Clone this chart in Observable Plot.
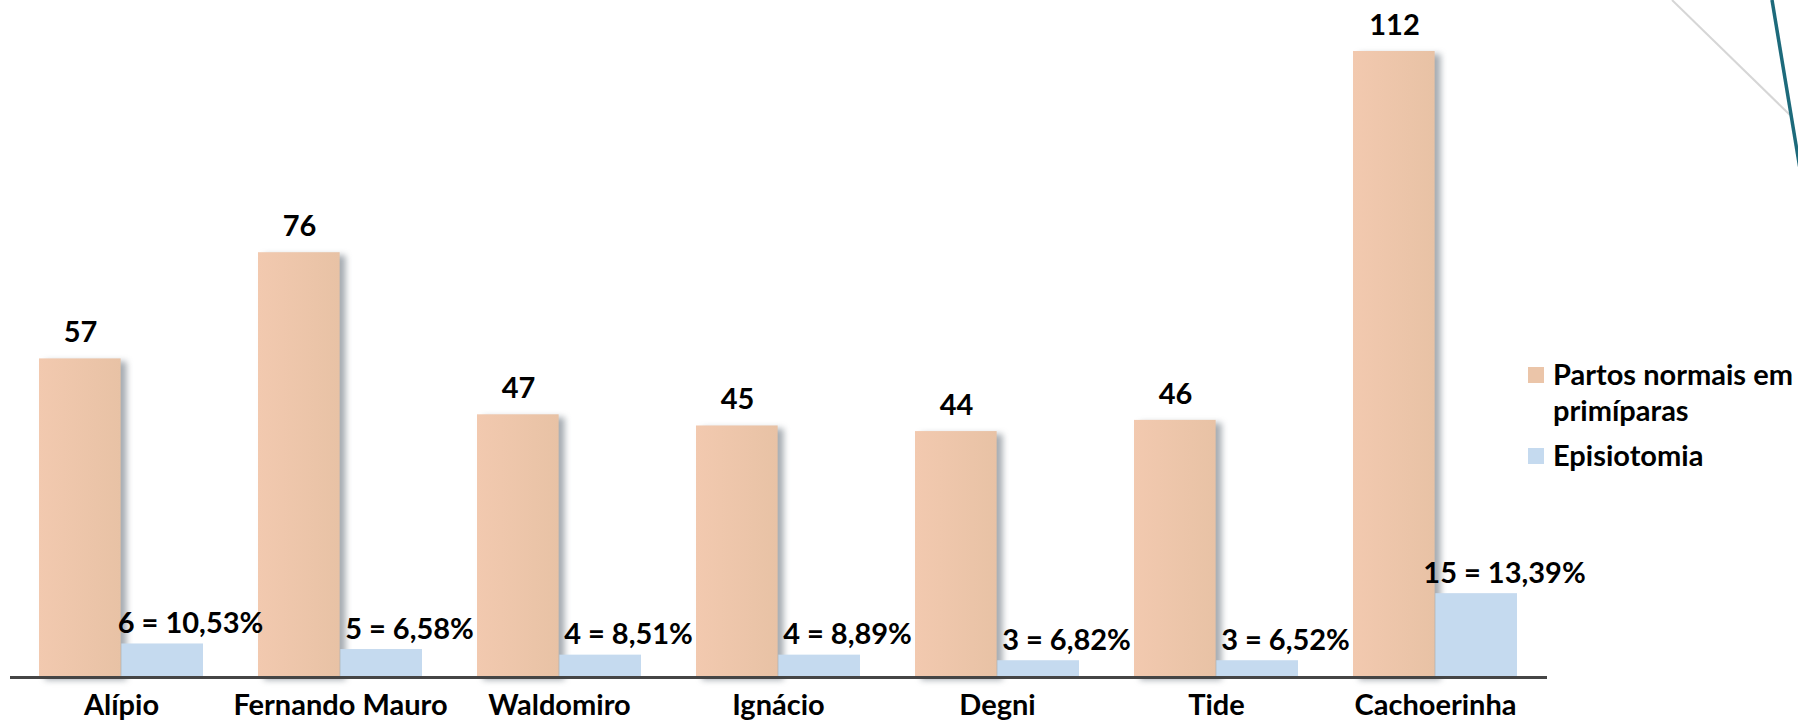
<!DOCTYPE html>
<html>
<head>
<meta charset="utf-8">
<script src="https://cdn.jsdelivr.net/npm/d3@7"></script>
<script src="https://cdn.jsdelivr.net/npm/@observablehq/plot@0.6"></script>
<style>
  html, body { margin: 0; padding: 0; background: #fff; overflow: hidden; }
  #wrap { position: relative; width: 1798px; height: 725px; }
  #deco { position: absolute; left: 0; top: 0; pointer-events: none; }
  #legend { position: absolute; left: 1528px; top: 0; font-family: Lato, sans-serif; font-weight: 700; font-size: 29px; color: #000; }
  .sw { position: absolute; width: 16px; height: 16px; left: 0; }
  .lt { position: absolute; left: 25px; line-height: 36px; white-space: nowrap; }
</style>
</head>
<body>
<div id="wrap">
  <div id="chart"></div>
  <svg id="deco" width="1798" height="725">
    <line x1="1672" y1="0" x2="1790" y2="115" stroke="#d6d6d6" stroke-width="2"/>
    <line x1="1772" y1="0" x2="1801" y2="175" stroke="#1d6a7b" stroke-width="3.5"/>
  </svg>
  <div id="legend"></div>
</div>
<script>
// ---- data ----
const categories = ["Alípio", "Fernando Mauro", "Waldomiro", "Ignácio", "Degni", "Tide", "Cachoerinha"];
const partos = [57, 76, 47, 45, 44, 46, 112];
const episiotomia = [6, 5, 4, 4, 3, 3, 15];
const episioLabels = ["6 = 10,53%", "5 = 6,58%", "4 = 8,51%", "4 = 8,89%", "3 = 6,82%", "3 = 6,52%", "15 = 13,39%"];
const seriesNames = ["Partos normais em primíparas", "Episiotomia"];
const seriesColors = ["#EBC5A9", "#C5DAEF"];

const data = categories.map((c, i) => ({cat: c, partos: partos[i], epi: episiotomia[i], label: episioLabels[i]}));

const half = 82.35; // half of the band width: split each band into two bars
const font = {fontSize: 29, fontWeight: 700, fill: "#000"};

const svg = Plot.plot({
  width: 1798,
  height: 725,
  marginLeft: 10,
  marginRight: 251,
  marginTop: 51,
  marginBottom: 48,
  x: {domain: categories, paddingInner: 0.25, paddingOuter: 0.125, axis: null},
  y: {domain: [0, 112], axis: null},
  style: {fontFamily: "Lato, sans-serif", background: "transparent", color: "#000", overflow: "visible"},
  marks: [
    Plot.barY(data, {x: "cat", y: "partos", insetRight: half, dx: 6, dy: 3, fill: "#4e5966", fillOpacity: 0.5}),
    Plot.barY(data, {x: "cat", y: "partos", insetRight: half, fill: "url(#orangeGrad)"}),
    Plot.barY(data, {x: "cat", y: "epi", insetLeft: half, fill: seriesColors[1]}),
    Plot.ruleY([0], {stroke: "#454545", strokeWidth: 3}),
    Plot.text(data, {x: "cat", y: "partos", text: d => String(d.partos), dx: -41, dy: -26, ...font}),
    Plot.text(data, {x: "cat", y: "epi", text: "label", dx: 69, dy: -20, ...font}),
    Plot.text(categories, {x: d => d, frameAnchor: "bottom", dy: 37, ...font})
  ]
});

// gradient for the orange bars and blurred shadow
const defs = d3.select(svg).insert("defs", ":first-child");
const g = defs.append("linearGradient").attr("id", "orangeGrad").attr("x1", "0").attr("x2", "1").attr("y1", "0").attr("y2", "0");
g.append("stop").attr("offset", "0").attr("stop-color", "#F2C9AF");
g.append("stop").attr("offset", "1").attr("stop-color", "#E8C2A5");
d3.select(svg).selectAll('g[aria-label="bar"]').filter((d, i) => i === 0).style("filter", "blur(3px)");

document.getElementById("chart").appendChild(svg);

// legend
const legend = d3.select("#legend");
legend.append("div").attr("class", "sw").style("top", "367px").style("background", seriesColors[0]);
legend.append("div").attr("class", "lt").style("top", "356px").html("Partos normais em<br>primíparas");
legend.append("div").attr("class", "sw").style("top", "448px").style("background", seriesColors[1]);
legend.append("div").attr("class", "lt").style("top", "437px").text(seriesNames[1]);
</script>
</body>
</html>
